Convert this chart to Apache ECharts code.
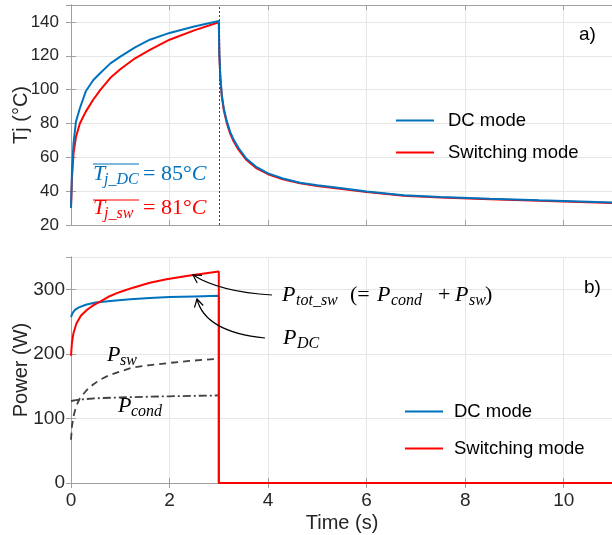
<!DOCTYPE html>
<html>
<head>
<meta charset="utf-8">
<script src="https://cdn.jsdelivr.net/npm/echarts@6/dist/echarts.min.js"></script>
<style>html,body{margin:0;padding:0;background:#fff}#c{width:612px;height:535px}</style>
</head>
<body>
<div id="c"></div>
<script>
// ---------- data ----------
const seriesNames = ['DC mode', 'Switching mode'];
const xTicks = [0, 2, 4, 6, 8, 10];
const xMax = 11;
const tjTicks = [20, 40, 60, 80, 100, 120, 140];
const tjMax = 150;
const pTicks = [0, 100, 200, 300];
const pMax = 350;

// Junction temperature, heating phase (0-3 s)
const tHeat      = [0, 0.02, 0.05, 0.1, 0.18, 0.3, 0.45, 0.6, 0.8, 1.0, 1.3, 1.6, 2.0, 2.5, 3.0];
const tjDcHeat   = [30, 52, 68, 81, 89, 99, 105.5, 110, 115.5, 119.5, 125, 129.5, 133.5, 137.3, 140.5];
const tjSwHeat   = [30, 48, 62, 72, 80, 87, 94, 100, 107, 112, 118.5, 123.5, 129.5, 135, 139.8];
// Junction temperature, cooling phase (3-11 s)
const tCool      = [3.01, 3.03, 3.06, 3.1, 3.16, 3.23, 3.3, 3.4, 3.55, 3.75, 4.0, 4.3, 4.65, 5.0, 5.5, 6.0, 6.75, 7.5, 8.5, 9.5, 10.5, 11];
const tjDcCool   = [122, 108, 97, 89, 81.5, 75, 70.5, 65.5, 59.5, 54.5, 50.5, 47.5, 45, 43.5, 41.7, 39.8, 37.6, 36.5, 35.5, 34.6, 33.8, 33.3];
const tjSwCool   = [121, 107, 96, 88, 80.5, 74, 69.5, 64.5, 58.7, 53.8, 50, 47, 44.6, 43.1, 41.3, 39.5, 37.3, 36.2, 35.2, 34.3, 33.5, 33];

// Power
const tPdc  = [0, 0.03, 0.08, 0.15, 0.3, 0.5, 0.8, 1.2, 1.6, 2.0, 2.5, 3.0, 3.0, 11];
const pDc   = [257, 263, 268, 271.5, 276, 279.5, 282, 284.5, 286.5, 288, 289, 290, 0, 0];
const tPtot = [0, 0.02, 0.05, 0.11, 0.2, 0.32, 0.45, 0.59, 0.75, 0.93, 1.1, 1.26, 1.6, 1.94, 2.41, 3.0, 3.0, 11];
const pTot  = [197, 218, 232, 247, 259, 268, 275, 281, 288, 294, 298.5, 302.5, 310, 315.5, 321.5, 327.5, 0, 0];
const tPsw  = [0, 0.02, 0.05, 0.1, 0.18, 0.32, 0.45, 0.59, 0.75, 0.93, 1.26, 1.6, 1.94, 2.4, 2.9];
const pSw   = [67, 88, 103, 118, 131, 144, 152.5, 160, 166, 171, 179, 182.5, 185.5, 189, 192];
const tPcond = [0, 0.1, 0.3, 0.6, 1.0, 1.5, 2.0, 2.5, 3.0];
const pCond  = [127, 128.5, 130, 131.5, 132.5, 133.5, 134.3, 135, 135.6];

// ---------- helpers ----------
const zip = (xs, ys) => xs.map((x, i) => [x, ys[i]]);
const BLUE = '#0072BD', RED = '#FF0000', DARK = '#404040';
const AX = '#a0a0a0', GRIDC = '#e6e6e6', TXT = '#262626';
const SANS = '"Liberation Sans", Arial, sans-serif';
const SERIF = '"Liberation Serif", "Times New Roman", serif';
const MAIN = 22, SUB = 16;

function mathText(parts, color) {
  // parts: [text, x, baseline, kind]  kind: i = italic, s = italic subscript, r = upright, m = "= NN°C" mix
  return parts.map(([t, x, bl, k]) => {
    const size = k === 's' ? SUB : MAIN;
    const el = {
      type: 'text', z: 100, x: x, y: bl - 0.3 * size,
      style: {
        text: t, fill: color, verticalAlign: 'middle', align: 'left',
        font: (k === 'r' || k === 'm' ? '' : 'italic ') + size + 'px ' + SERIF
      }
    };
    if (k === 'm') {
      el.style.rich = {
        r: { fontFamily: SERIF, fontSize: MAIN, fill: color },
        i: { fontFamily: SERIF, fontSize: MAIN, fontStyle: 'italic', fill: color }
      };
    }
    return el;
  });
}
function arrow(x1, y1, cx, cy, x2, y2) {
  const dx = x2 - cx, dy = y2 - cy, L = Math.hypot(dx, dy);
  const ux = dx / L, uy = dy / L, a = 30 * Math.PI / 180, len = 9;
  const arm = s => [x2 - len * (ux * Math.cos(a) - s * uy * Math.sin(a)),
                    y2 - len * (uy * Math.cos(a) + s * ux * Math.sin(a))];
  return [
    { type: 'bezierCurve', z: 100, shape: { x1, y1, x2, y2, cpx1: cx, cpy1: cy },
      style: { stroke: '#000', lineWidth: 1.2, fill: null } },
    { type: 'polyline', z: 100, shape: { points: [arm(1), [x2, y2], arm(-1)] },
      style: { stroke: '#000', lineWidth: 1.2, fill: null } }
  ];
}

const G1 = { left: 71, top: 5, width: 542, height: 220, containLabel: false, outerBoundsMode: 'none' };
const G2 = { left: 71, top: 257, width: 542, height: 226, containLabel: false, outerBoundsMode: 'none' };

function xAx(grid, labels) {
  return {
    type: 'value', gridIndex: grid, min: 0, max: xMax, interval: xTicks[1] - xTicks[0],
    axisLine: { show: true, lineStyle: { color: AX, width: 1 } },
    axisTick: { show: true, inside: true, length: 5, lineStyle: { color: AX } },
    axisLabel: { show: labels, color: TXT, fontSize: 19, fontFamily: SANS, margin: 8, showMaxLabel: false },
    splitLine: { show: true, lineStyle: { color: GRIDC, width: 1 } },
    name: labels ? 'Time (s)' : '', nameLocation: 'middle', nameGap: 30, nameMoveOverlap: false,
    nameTextStyle: { color: TXT, fontSize: 20, fontFamily: SANS }
  };
}
function xTop(grid) {
  return {
    type: 'value', gridIndex: grid, position: 'top', min: 0, max: xMax, interval: 2,
    axisLine: { show: true, lineStyle: { color: AX } },
    axisTick: { show: true, inside: true, length: 5, lineStyle: { color: AX } },
    axisLabel: { show: false }, splitLine: { show: false }
  };
}
function yAx(grid, min, max, step, name, margin, fs) {
  return {
    type: 'value', gridIndex: grid, min, max, interval: step,
    axisLine: { show: true, lineStyle: { color: AX } },
    axisTick: { show: true, inside: true, length: 5, lineStyle: { color: AX } },
    axisLabel: { color: TXT, fontSize: fs, fontFamily: SANS, margin, showMaxLabel: false },
    splitLine: { show: true, lineStyle: { color: GRIDC } },
    name, nameLocation: 'middle', nameGap: 40, nameMoveOverlap: false,
    nameTextStyle: { color: TXT, fontSize: 20, fontFamily: SANS }
  };
}
function yRight(grid, min, max, step) {
  return {
    type: 'value', gridIndex: grid, position: 'right', min, max, interval: step,
    axisLine: { show: true, lineStyle: { color: AX } },
    axisTick: { show: true, inside: true, length: 5, lineStyle: { color: AX } },
    axisLabel: { show: false }, splitLine: { show: false }
  };
}
const line = (name, data, color, xi, yi, extra) => Object.assign({
  name, type: 'line', data, xAxisIndex: xi, yAxisIndex: yi, symbol: 'none',
  lineStyle: { color, width: 2 }, itemStyle: { color }, silent: true
}, extra || {});

const graphics = [].concat(
  mathText([['T', 93, 181, 'i'], ['j_DC', 104, 185, 's'], ['{r|= 85°}{i|C}', 143, 181, 'm']], BLUE),
  mathText([['T', 93, 215, 'i'], ['j_sw', 104, 219, 's'], ['{r|= 81°}{i|C}', 143, 215, 'm']], RED),
  [
    { type: 'line', z: 100, shape: { x1: 93, y1: 164, x2: 139, y2: 164 }, style: { stroke: BLUE, lineWidth: 1.2 } },
    { type: 'line', z: 100, shape: { x1: 93, y1: 200, x2: 139, y2: 200 }, style: { stroke: RED, lineWidth: 1.2 } }
  ],
  mathText([['P', 282, 302, 'i'], ['tot_sw', 296, 306, 's'], ['(=', 350, 302, 'r'], ['P', 377, 302, 'i'],
            ['cond', 391, 306, 's'], ['+', 438, 302, 'r'], ['P', 455, 302, 'i'], ['sw', 469, 306, 's'], [')', 485, 302, 'r']], '#000'),
  mathText([['P', 283, 345, 'i'], ['DC', 297, 349, 's']], '#000'),
  mathText([['P', 107, 362, 'i'], ['sw', 120, 366, 's']], '#000'),
  mathText([['P', 118, 413, 'i'], ['cond', 131, 417, 's']], '#000'),
  arrow(272, 295, 220, 292, 193, 275),
  arrow(265, 338, 205, 332, 197, 299),
  [
    { type: 'text', z: 100, x: 579, y: 35, style: { text: 'a)', fill: '#000', font: '19px ' + SANS, verticalAlign: 'middle' } },
    { type: 'text', z: 100, x: 584, y: 288, style: { text: 'b)', fill: '#000', font: '19px ' + SANS, verticalAlign: 'middle' } }
  ]
);

const legendBase = {
  orient: 'vertical', padding: 0, icon: 'rect', itemWidth: 38, itemHeight: 2,
  textStyle: { color: '#000', fontSize: 18.5, fontFamily: SANS, lineHeight: 18, padding: [0, 0, 0, 9] },
  data: seriesNames, selectedMode: false
};

const option = {
  animation: false,
  backgroundColor: '#fff',
  grid: [G1, G2],
  xAxis: [xAx(0, false), xAx(1, true), xTop(0), xTop(1)],
  yAxis: [yAx(0, tjTicks[0], tjMax, 20, 'Tj (°C)', 12, 17), yAx(1, pTicks[0], pMax, 100, 'Power (W)', 6, 19),
          yRight(0, 20, tjMax, 20), yRight(1, 0, pMax, 100)],
  legend: [
    Object.assign({}, legendBase, { left: 396, top: 111, itemGap: 13 }),
    Object.assign({}, legendBase, { left: 405, top: 402, itemGap: 18, textStyle: Object.assign({}, legendBase.textStyle, { padding: [0, 0, 0, 6] }) })
  ],
  series: [
    line(seriesNames[1], zip(tHeat, tjSwHeat).concat(zip(tCool, tjSwCool)), RED, 0, 0),
    line(seriesNames[0], zip(tHeat, tjDcHeat).concat(zip(tCool, tjDcCool)), BLUE, 0, 0, {
      markLine: { silent: true, symbol: ['none', 'none'], label: { show: false },
        lineStyle: { color: '#444', width: 1, type: [2, 2] }, data: [{ xAxis: 3 }] }
    }),
    line('Psw', zip(tPsw, pSw), DARK, 1, 1, { lineStyle: { color: DARK, width: 1.8, type: [7, 5] } }),
    line('Pcond', zip(tPcond, pCond), DARK, 1, 1, { lineStyle: { color: DARK, width: 1.8, type: [8, 3, 2, 3] } }),
    line(seriesNames[0], zip(tPdc, pDc), BLUE, 1, 1),
    line(seriesNames[1], zip(tPtot, pTot), RED, 1, 1)
  ],
  graphic: graphics
};

const chart = echarts.init(document.getElementById('c'), null, { renderer: 'canvas' });
chart.setOption(option);
</script>
</body>
</html>
